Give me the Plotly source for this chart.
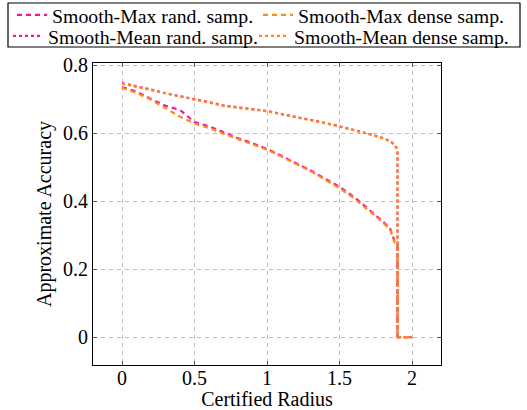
import plotly.graph_objects as go

radius = [0, 0.1, 0.2, 0.3, 0.4, 0.5, 0.6, 0.7, 0.8, 0.9, 1.0, 1.1, 1.2, 1.3,
          1.4, 1.5, 1.6, 1.7, 1.8, 1.85, 1.88, 1.9, 1.9, 2.0]

max_rand = [0.735, 0.722, 0.700, 0.680, 0.668, 0.632, 0.620, 0.602, 0.585, 0.570,
            0.553, 0.533, 0.512, 0.490, 0.466, 0.442, 0.412, 0.377, 0.340, 0.318,
            0.282, 0.272, 0.0, 0.0]
max_dense = [0.733, 0.718, 0.698, 0.672, 0.648, 0.628, 0.615, 0.598, 0.582, 0.567,
             0.551, 0.531, 0.510, 0.488, 0.463, 0.438, 0.408, 0.373, 0.337, 0.315,
             0.278, 0.270, 0.0, 0.0]
mean_rand = [0.747, 0.738, 0.728, 0.717, 0.709, 0.701, 0.691, 0.681, 0.675, 0.670,
             0.665, 0.656, 0.648, 0.640, 0.630, 0.620, 0.610, 0.598, 0.585, 0.576,
             0.566, 0.552, 0.0, 0.0]
mean_dense = [0.745, 0.736, 0.726, 0.716, 0.708, 0.699, 0.690, 0.680, 0.674, 0.669,
              0.664, 0.655, 0.647, 0.639, 0.629, 0.619, 0.609, 0.597, 0.584, 0.575,
              0.565, 0.550, 0.0, 0.0]

names = ["Smooth-Max rand. samp.", "Smooth-Max dense samp.",
         "Smooth-Mean rand. samp.", "Smooth-Mean dense samp."]

x_ticks = [0, 0.5, 1, 1.5, 2]
x_labels = ["0", "0.5", "1", "1.5", "2"]
y_ticks = [0, 0.2, 0.4, 0.6, 0.8]
y_labels = ["0", "0.2", "0.4", "0.6", "0.8"]

MAG = "#f5169a"
ORG = "#ff8a1c"
DASHED = "5px,4px"
DOTTED = "3px,3px"

PW, PH, L, T = 348, 302, 93, 63

def px_to_paper_x(px):
    return (px - L) / PW

def px_to_paper_y(py):
    return (T + PH - py) / PH

# legend slots: (left px, row-center px)
slots = [(12, 15), (258, 15), (8, 36), (254, 36)]

fig = go.Figure()
series = [(max_rand, MAG, DASHED),
          (max_dense, ORG, DASHED),
          (mean_rand, MAG, DOTTED),
          (mean_dense, ORG, DOTTED)]
for i, (ys, col, dash) in enumerate(series):
    lg = "legend" if i == 0 else f"legend{i + 1}"
    fig.add_trace(go.Scatter(x=radius, y=ys, name=names[i], mode="lines", legend=lg,
                             line=dict(color=col, width=2.2, dash=dash)))

axis_common = dict(showline=True, linecolor="black", linewidth=1.2, mirror="ticks",
                   ticks="inside", ticklen=4, tickcolor="#555555",
                   showgrid=True, gridcolor="#bdbdbd", griddash="4px,4px", gridwidth=1,
                   zeroline=False, tickfont=dict(size=20, color="black"))

fig.update_xaxes(range=[-0.2, 2.2], tickvals=x_ticks, ticktext=x_labels,
                 ticklabelstandoff=-5,
                 title=dict(text="Certified Radius", font=dict(size=20, color="black"), standoff=12),
                 **axis_common)
fig.update_yaxes(range=[-0.082, 0.806], tickvals=y_ticks, ticktext=y_labels,
                 ticklabelstandoff=0,
                 title=dict(text="Approximate Accuracy", font=dict(size=20, color="black"), standoff=5),
                 **axis_common)

leg_common = dict(orientation="h", xanchor="left", yanchor="middle",
                  borderwidth=0, bgcolor="rgba(0,0,0,0)",
                  font=dict(size=19.8, color="black"), itemwidth=30)

legends = {}
for i, (lx, ly) in enumerate(slots):
    key = "legend" if i == 0 else f"legend{i + 1}"
    legends[key] = dict(x=px_to_paper_x(lx), y=px_to_paper_y(ly), **leg_common)

fig.update_layout(
    width=527, height=410,
    margin=dict(l=L, r=527 - L - PW, t=T, b=410 - T - PH, autoexpand=False),
    paper_bgcolor="white", plot_bgcolor="white",
    font=dict(family="Liberation Serif, Times New Roman, serif", size=20, color="black"),
    showlegend=True,
    shapes=[dict(type="rect", xref="paper", yref="paper",
                 x0=px_to_paper_x(8), x1=px_to_paper_x(520),
                 y0=px_to_paper_y(47), y1=px_to_paper_y(3),
                 line=dict(color="black", width=1.2), fillcolor="rgba(0,0,0,0)")],
    **legends,
)

fig.write_html("out.html", config={"displayModeBar": False},
               post_script="document.body.style.margin='0px';")
